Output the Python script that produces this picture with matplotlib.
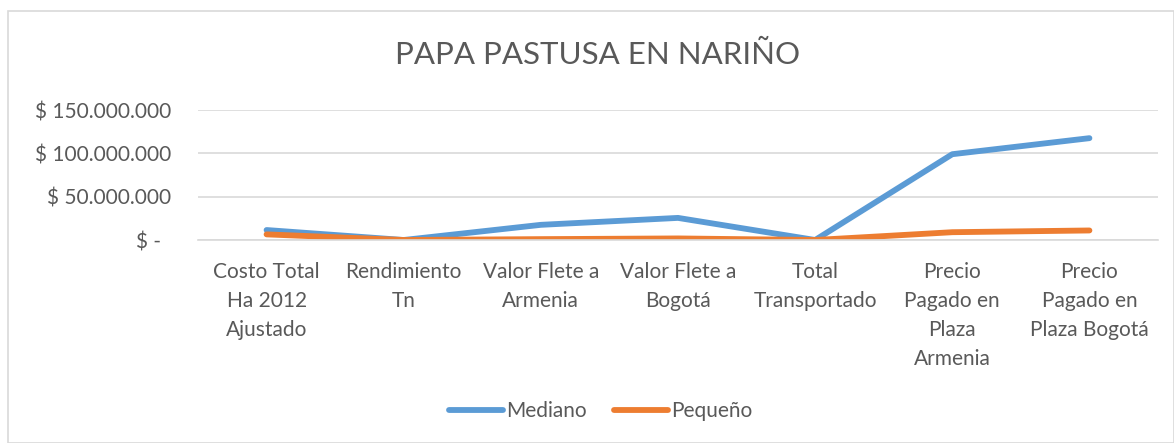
import matplotlib
matplotlib.use('Agg')
import matplotlib.pyplot as plt
from matplotlib.patches import Rectangle
from matplotlib.ticker import FuncFormatter

categories = ['Costo Total\nHa 2012\nAjustado', 'Rendimiento\nTn', 'Valor Flete a\nArmenia',
              'Valor Flete a\nBogotá', 'Total\nTransportado', 'Precio\nPagado en\nPlaza\nArmenia',
              'Precio\nPagado en\nPlaza Bogotá']
mediano = [11500000, 30, 17500000, 25500000, 300, 99000000, 117500000]
pequeno = [6500000, 20, 1000000, 1800000, 200, 9000000, 11000000]

plt.rcParams['font.family'] = ['Lato', 'DejaVu Sans']
text_color = '#595959'

fig = plt.figure(figsize=(11.74, 4.43), dpi=100)
fig.patches.append(Rectangle((8 / 1174, 0), 1 - 8 / 1174, 1 - 11 / 443, transform=fig.transFigure,
                             fill=False, edgecolor='#d9d9d9', linewidth=1.2))
ax = fig.add_axes([198 / 1174, 1 - 240 / 443, 960 / 1174, 130 / 443])

x = range(len(categories))
ax.plot(x, mediano, color='#5b9bd5', linewidth=4.2, solid_capstyle='round', label='Mediano')
ax.plot(x, pequeno, color='#ed7d31', linewidth=4.2, solid_capstyle='round', label='Pequeño')

ax.set_xlim(-0.5, len(categories) - 0.5)
ax.set_ylim(0, 150000000)
ax.set_yticks([0, 50000000, 100000000, 150000000])


def fmt(v, pos):
    if v == 0:
        return '$ -  '
    return '$ ' + f'{int(v):,}'.replace(',', '.')


ax.yaxis.set_major_formatter(FuncFormatter(fmt))
ax.set_xticks(list(x))
ax.set_xticklabels(categories, fontsize=15, color=text_color, linespacing=1.55)
ax.tick_params(axis='y', labelsize=15, labelcolor=text_color, length=0, pad=19)
ax.tick_params(axis='x', length=0, pad=16)
ax.grid(axis='y', color='#d9d9d9', linewidth=1.2)
ax.set_axisbelow(True)
for s in ['top', 'right', 'left']:
    ax.spines[s].set_visible(False)
ax.spines['bottom'].set_color('#d9d9d9')
ax.spines['bottom'].set_linewidth(1.2)

fig.text(598 / 1174, 1 - 55 / 443, 'PAPA PASTUSA EN NARIÑO', ha='center', va='center',
         fontsize=22.5, color=text_color)

fig.legend(loc='center', bbox_to_anchor=(0.512, 1 - 411 / 443), ncol=2, frameon=False,
           fontsize=15, labelcolor=text_color, handlelength=2.6, handletextpad=0.15,
           columnspacing=1.3)

fig.savefig('out.png', dpi=100)
